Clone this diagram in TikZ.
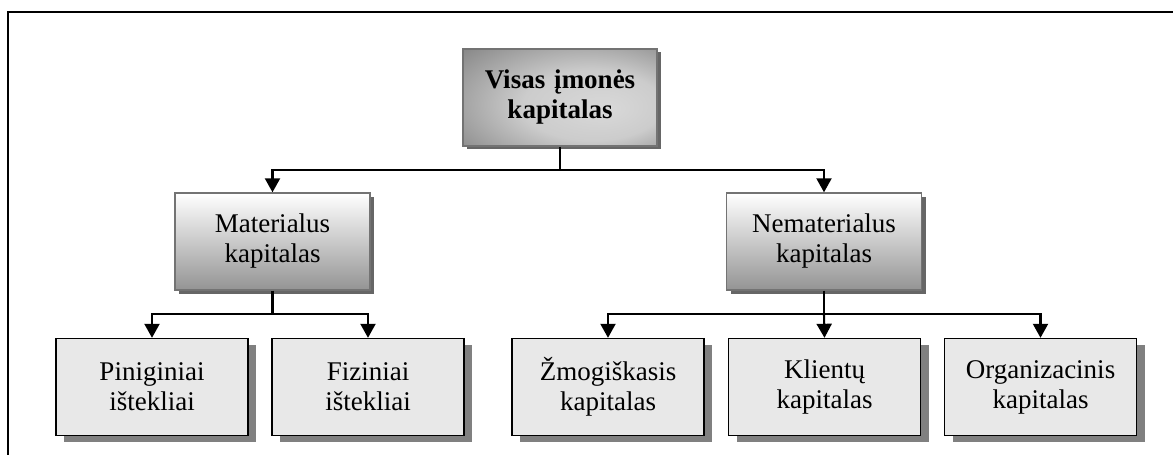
\documentclass[tikz,border=0pt]{standalone}
\usepackage{fontspec}
\setmainfont{Liberation Serif}
\usetikzlibrary{arrows.meta,shadows}

% light spot towards the lower right of the root box
\pgfdeclareradialshading{rootshade}{\pgfpoint{12bp}{-6bp}}{%
  color(0bp)=(black!15);
  color(18bp)=(black!20);
  color(40bp)=(black!47);
  color(60bp)=(black!57)}

\tikzset{
  boxfont/.style={font=\fontsize{27}{30}\selectfont},
  rootbox/.style={font=\fontsize{27}{30}\selectfont\bfseries,
    draw=black!55, line width=1.6pt, shading=rootshade,
    minimum width=194pt, minimum height=97pt, inner sep=0pt,
    text width=184pt, align=center,
    drop shadow={shadow xshift=4pt, shadow yshift=-3pt, fill=black!60, opacity=1}},
  midbox/.style={boxfont, draw=black!55, line width=1.4pt,
    top color=white, bottom color=black!42,
    minimum width=195pt, minimum height=97pt, inner sep=0pt,
    text width=184pt, align=center,
    drop shadow={shadow xshift=4pt, shadow yshift=-4pt, fill=black!60, opacity=1}},
  leafbox/.style={boxfont, draw=black, line width=1.4pt, fill=black!9,
    minimum width=192pt, minimum height=97pt, inner sep=0pt,
    text width=184pt, align=center,
    drop shadow={shadow xshift=8pt, shadow yshift=-6pt, fill=black!50, opacity=1}},
  conn/.style={line width=2.1pt},
  arr/.style={conn, -{Triangle[width=15pt,length=14pt]}},
}

\begin{document}
\begin{tikzpicture}[x=1pt,y=-1pt]
\useasboundingbox (0,0) rectangle (1173,455);

% partial outer frame
\draw[line width=2.2pt] (8,455) -- (8,12) -- (1174,12);

% boxes
\node[rootbox] (root) at (560,97.5) {Visas įmonės\\kapitalas};
\node[midbox] (mat) at (272.5,241.5) {Materialus\\kapitalas};
\node[midbox] (nemat) at (824,241.5) {Nematerialus\\kapitalas};

\node[leafbox] (pin) at (152,387) {Piniginiai\\ištekliai};
\node[leafbox] (fiz) at (368,387) {Fiziniai\\ištekliai};
\node[leafbox] (zmog) at (608,387) {Žmogiškasis\\kapitalas};
\node[leafbox] (klient) at (824.5,387) {Klientų\\kapitalas};
\node[leafbox] (org) at (1040.5,387) {Organizacinis\\kapitalas};

% junction points of the connectors
\coordinate (j0) at (560,170);
\coordinate (j1) at (272.5,314);
\coordinate (j2) at (824,314);

% root level
\draw[conn] (root.south) -- (j0);
\draw[arr] (j0) -| (mat.north);
\draw[arr] (j0) -| (nemat.north);

% tangible capital
\draw[conn] (mat.south) -- (j1);
\draw[arr] (j1) -| (pin.north);
\draw[arr] (j1) -| (fiz.north);

% intangible capital
\draw[conn] (nemat.south) -- (j2);
\draw[arr] (j2) -| (zmog.north);
\draw[arr] (j2) -- (klient.north);
\draw[arr] (j2) -| (org.north);
\end{tikzpicture}
\end{document}
